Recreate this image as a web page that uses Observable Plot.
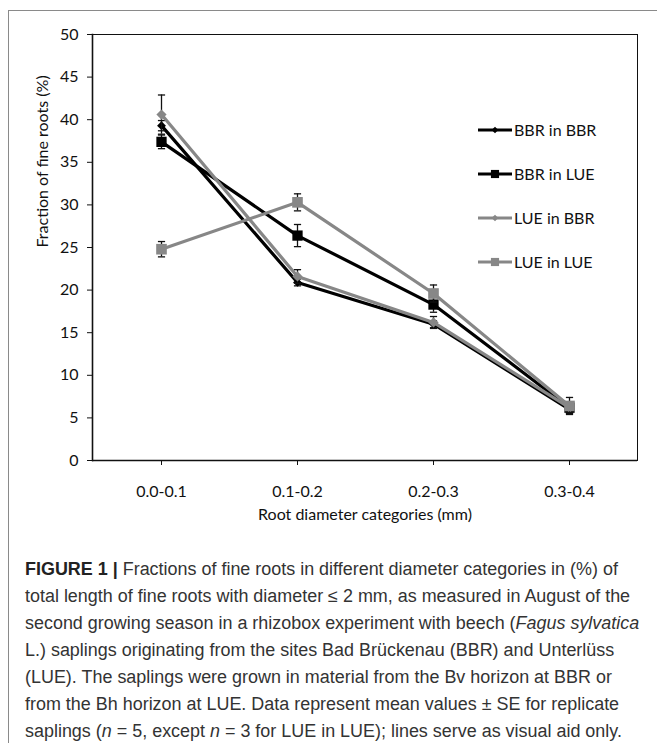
<!DOCTYPE html>
<html>
<head>
<meta charset="utf-8">
<script src="https://cdn.jsdelivr.net/npm/d3@7"></script>
<script src="https://cdn.jsdelivr.net/npm/@observablehq/plot@0.6"></script>
<style>
  html, body { margin: 0; padding: 0; background: #fff; }
  body { width: 657px; height: 743px; position: relative; overflow: hidden; }
  #panel { position: absolute; left: 8px; top: 10px; width: 700px; height: 800px;
           border-left: 1.5px solid #8a8a8a; border-top: 1.5px solid #8a8a8a; }
  #chart { position: absolute; left: 0; top: 0; }
  #caption { position: absolute; left: 25px; top: 556px; font-family: "Liberation Sans", Arial, sans-serif;
             color: #333; line-height: 27px; }
  #caption div { white-space: nowrap; }
  #caption b { color: #222; }
</style>
</head>
<body>
<div id="panel"></div>
<div id="chart"></div>
<div id="caption">
  <div><b>FIGURE 1 |</b> Fractions of fine roots in different diameter categories in (%) of</div>
  <div>total length of fine roots with diameter ≤ 2 mm, as measured in August of the</div>
  <div id="refline">second growing season in a rhizobox experiment with beech (<i>Fagus sylvatica</i></div>
  <div>L.) saplings originating from the sites Bad Brückenau (BBR) and Unterlüss</div>
  <div>(LUE). The saplings were grown in material from the Bv horizon at BBR or</div>
  <div>from the Bh horizon at LUE. Data represent mean values ± SE for replicate</div>
  <div>saplings (<i>n</i> = 5, except <i>n</i> = 3 for LUE in LUE); lines serve as visual aid only.</div>
</div>
<script>
// ---- data ----
const categories = ["0.0-0.1", "0.1-0.2", "0.2-0.3", "0.3-0.4"];
const seriesNames = ["BBR in BBR", "BBR in LUE", "LUE in BBR", "LUE in LUE"];
const bbrInBbr = [39.3, 20.9, 16.0, 6.0];
const bbrInLue = [37.4, 26.4, 18.3, 6.2];
const lueInBbr = [40.6, 21.6, 16.2, 6.2];
const lueInLue = [24.8, 30.3, 19.6, 6.4];
const bbrInBbrSE = [0.6, 0.4, 0.4, 0.5];
const bbrInLueSE = [0.8, 1.3, 0.9, 0.6];
const lueInBbrSE = [2.3, 0.8, 0.7, 0.6];
const lueInLueSE = [0.9, 1.0, 1.0, 1.0];
const yTicks = [0, 5, 10, 15, 20, 25, 30, 35, 40, 45, 50];
const xTitle = "Root diameter categories (mm)";
const yTitle = "Fraction of fine roots (%)";

// ---- styles ----
const BLACK = "#000000";
const GREY = "#878787";
const seriesStyle = {
  "BBR in BBR": {color: BLACK, symbol: "diamond2", r: 4.0, lr: 3.0},
  "BBR in LUE": {color: BLACK, symbol: "square", r: 5.8, lr: 4.6},
  "LUE in BBR": {color: GREY, symbol: "diamond2", r: 4.6, lr: 3.0},
  "LUE in LUE": {color: GREY, symbol: "square", r: 6.0, lr: 4.6}
};
const values = [bbrInBbr, bbrInLue, lueInBbr, lueInLue];
const errors = [bbrInBbrSE, bbrInLueSE, lueInBbrSE, lueInLueSE];

const rows = [];
seriesNames.forEach((s, i) => categories.forEach((c, j) => rows.push({series: s, cat: c, value: values[i][j], se: errors[i][j]})));

const capSymbol = {draw(context, size) { const r = Math.sqrt(size / Math.PI); context.moveTo(-r, 0); context.lineTo(r, 0); }};

const FONT = "Lato, 'Open Sans', sans-serif";

const marks = [
  Plot.frame({stroke: "#111", strokeWidth: 1}),
  Plot.axisY(yTicks, {tickSize: 5, tickPadding: 9, fontSize: 16, label: null, color: "#111"}),
  Plot.axisX(categories, {tickSize: 5, tickPadding: 20, fontSize: 16, label: null, color: "#111"}),
  Plot.ruleY([0], {stroke: "#111", strokeWidth: 1.6}),
  Plot.frame({anchor: "left", stroke: "#111", strokeWidth: 1.6}),
  Plot.text([yTitle], {frameAnchor: "left", dx: -50, rotate: -90, fontSize: 16, fill: "#111"}),
  Plot.text([xTitle], {frameAnchor: "bottom", dy: 59, fontSize: 16, fill: "#111"})
];

seriesNames.forEach(s => {
  const st = seriesStyle[s];
  const data = rows.filter(d => d.series === s);
  marks.push(
    Plot.line(data, {x: "cat", y: "value", stroke: st.color, strokeWidth: 3.2, curve: "linear"}),
    Plot.ruleX(data, {x: "cat", y1: d => d.value - d.se, y2: d => d.value + d.se, stroke: "#111", strokeWidth: 1.3}),
    Plot.dot(data, {x: "cat", y: d => d.value + d.se, symbol: capSymbol, r: 3.6, stroke: "#111", strokeWidth: 1.3}),
    Plot.dot(data, {x: "cat", y: d => d.value - d.se, symbol: capSymbol, r: 3.6, stroke: "#111", strokeWidth: 1.3}),
    Plot.dot(data, {x: "cat", y: "value", symbol: st.symbol, r: st.r, fill: st.color, stroke: "none"})
  );
});

const chart = Plot.plot({
  width: 657,
  height: 545,
  marginLeft: 92,
  marginRight: 20,
  marginTop: 34,
  marginBottom: 85,
  style: {fontFamily: FONT, fontSize: "16px", background: "transparent", overflow: "visible"},
  x: {type: "point", domain: categories, padding: 0.5, axis: null},
  y: {domain: [0, 50], axis: null},
  marks
});
document.getElementById("chart").appendChild(chart);

// ---- legend (inside plot area) ----
const svg = d3.select(chart);
const legendX = 478, legendY0 = 130, legendStep = 44, legendLen = 34;
const lg = svg.append("g").attr("font-family", FONT).attr("font-size", 16).attr("text-anchor", "start");
seriesNames.forEach((s, i) => {
  const st = seriesStyle[s];
  const y = legendY0 + i * legendStep;
  const g = lg.append("g").attr("transform", `translate(${legendX},${y})`);
  g.append("line").attr("x1", 0).attr("x2", legendLen).attr("y1", 0).attr("y2", 0)
    .attr("stroke", st.color).attr("stroke-width", 3.2);
  const sym = st.symbol === "square" ? d3.symbolSquare : d3.symbolDiamond2;
  g.append("path").attr("transform", `translate(${legendLen / 2},0)`)
    .attr("d", d3.symbol(sym, Math.PI * st.lr * st.lr)()).attr("fill", st.color);
  g.append("text").attr("x", legendLen + 2).attr("y", 0).attr("dy", "0.35em")
    .attr("text-anchor", "start").attr("fill", "#111").text(s);
});

// ---- caption sizing ----
const ref = document.getElementById("refline");
const cap = document.getElementById("caption");
cap.style.fontSize = "16px";
const w = ref.getBoundingClientRect().width;
cap.style.fontSize = (16 * 615 / w).toFixed(2) + "px";
</script>
</body>
</html>
